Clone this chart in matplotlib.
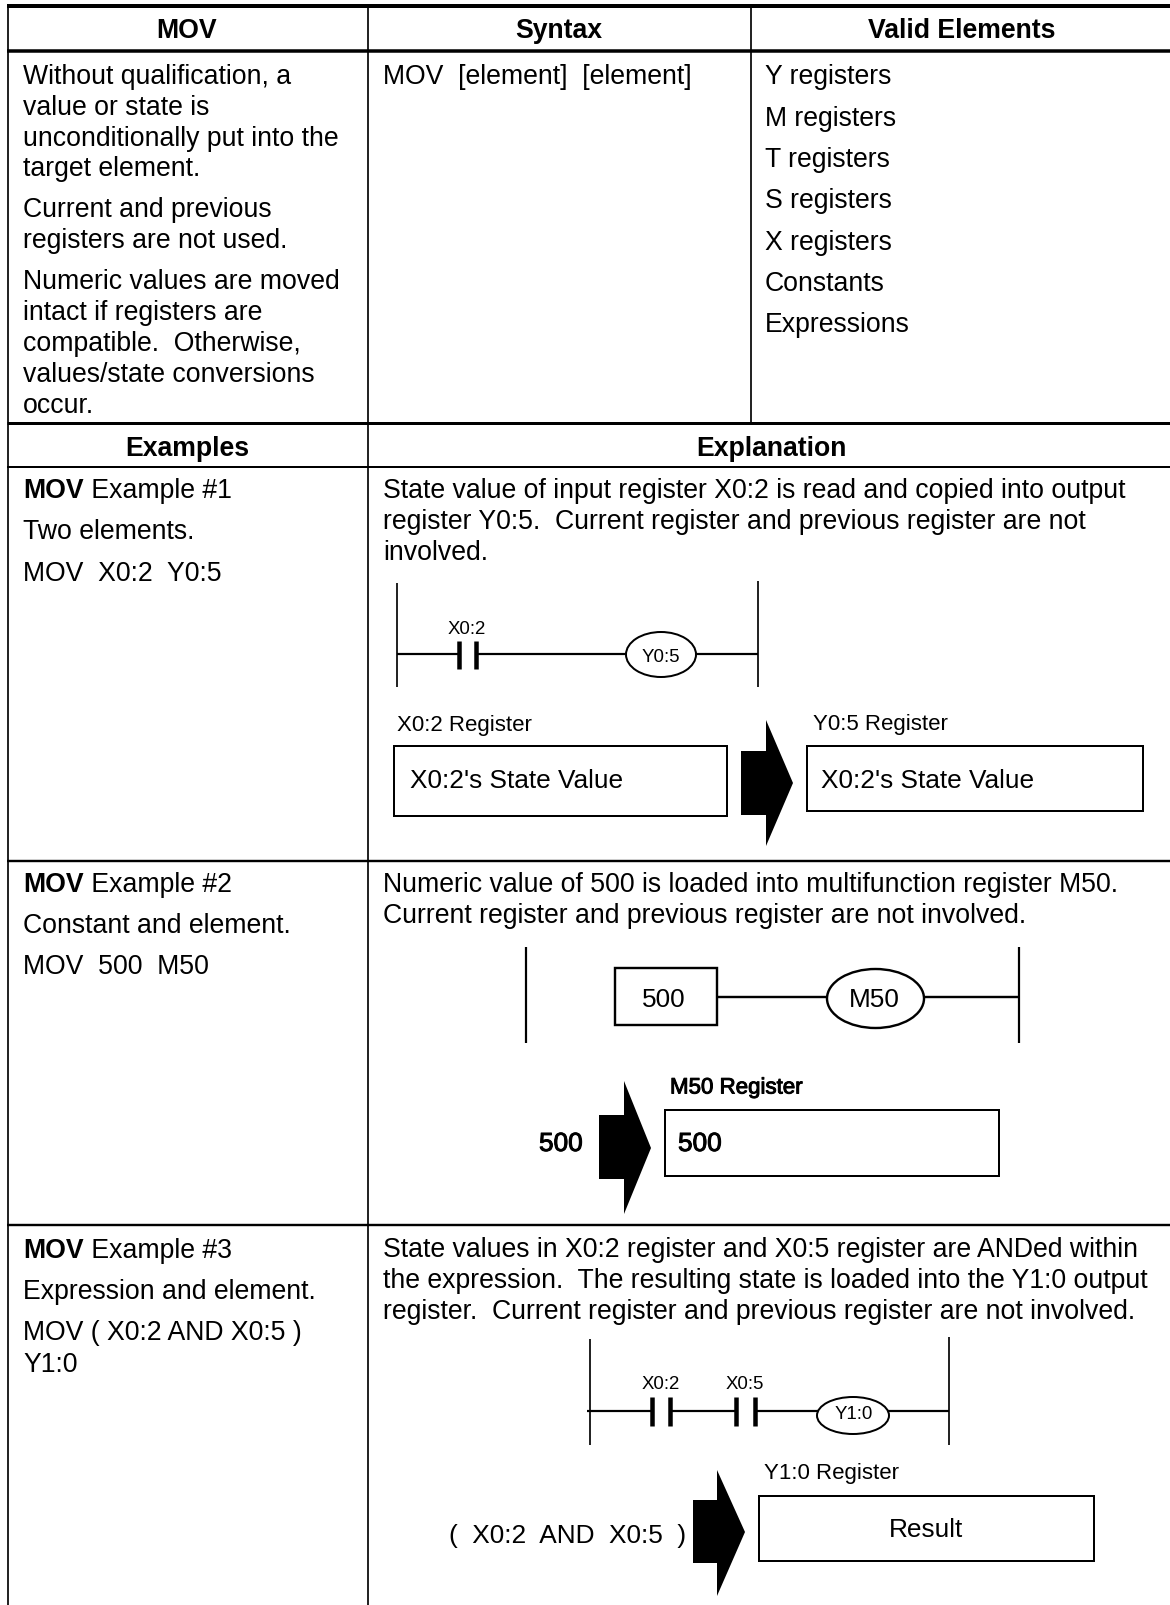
import matplotlib
matplotlib.use("Agg")
import matplotlib.pyplot as plt
from matplotlib.patches import Ellipse, Rectangle, Polygon
import matplotlib.patheffects as pe

plt.rcParams['font.family'] = ['Liberation Sans', 'DejaVu Sans']

W, H = 1170, 1606
BODY = 26.6
DIAG = 26.2
REG = 22.3
SMALL = 18.6
PX = 0.72

header_top = ["MOV", "Syntax", "Valid Elements"]
header_mid = ["Examples", "Explanation"]
description = ["Without qualification, a", "value or state is", "unconditionally put into the", "target element.",
               "Current and previous", "registers are not used.",
               "Numeric values are moved", "intact if registers are", "compatible.  Otherwise,",
               "values/state conversions", "occur."]
description_y = [84, 115, 146, 176, 217, 248, 289, 320, 351, 382, 413]
syntax = "MOV  [element]  [element]"
elements = ["Y registers", "M registers", "T registers", "S registers", "X registers", "Constants", "Expressions"]
elements_y = [84, 126, 167, 208, 250, 291, 332]

ex_left = [
    (["Two elements.", "MOV  X0:2  Y0:5"], 498, [539, 581]),
    (["Constant and element.", "MOV  500  M50"], 892, [933, 974]),
    (["Expression and element.", "MOV ( X0:2 AND X0:5 )", "Y1:0"], 1258, [1299, 1340, 1372]),
]
ex_right = [
    (["State value of input register X0:2 is read and copied into output",
      "register Y0:5.  Current register and previous register are not", "involved."], [498, 529, 560]),
    (["Numeric value of 500 is loaded into multifunction register M50.",
      "Current register and previous register are not involved."], [892, 923]),
    (["State values in X0:2 register and X0:5 register are ANDed within",
      "the expression.  The resulting state is loaded into the Y1:0 output",
      "register.  Current register and previous register are not involved."], [1257, 1288, 1319]),
]

fig = plt.figure(figsize=(W / 100, H / 100), dpi=100, facecolor='white')
ax = fig.add_axes([0, 0, 1, 1])
ax.set_xlim(0, W)
ax.set_ylim(H, 0)
ax.axis('off')


def line(x0, y0, x1, y1, w=1.7, z=2):
    ax.plot([x0, x1], [y0, y1], color='black', lw=w * PX, solid_capstyle='butt', zorder=z)


def text(x, y, s, px=BODY, ha='left', va='baseline', bold=False, heavy=False):
    t = ax.text(x, y, s, fontsize=px * PX, ha=ha, va=va, color='black',
                fontweight='bold' if bold else 'normal', zorder=5)
    if heavy:
        t.set_path_effects([pe.withStroke(linewidth=0.7, foreground='black')])
    return t


def box(x0, y0, x1, y1, w=2.0):
    ax.add_patch(Rectangle((x0, y0), x1 - x0, y1 - y0, fc='white', ec='black', lw=w * PX, zorder=3))


def ell(x0, y0, x1, y1, w=2.0):
    ax.add_patch(Ellipse(((x0 + x1) / 2, (y0 + y1) / 2), x1 - x0, y1 - y0, fc='white', ec='black', lw=w * PX, zorder=3))


def contact(x0, x1, y0, y1):
    ax.add_patch(Rectangle((x0, y0), x1 - x0, y1 - y0, fc='white', ec='none', zorder=3))
    line(x0, y0, x0, y1, 4.5, 4)
    line(x1, y0, x1, y1, 4.5, 4)


def arrow(x0, xs, xt, ytop, yr0, ytip, yr1, ybot):
    ax.add_patch(Polygon([(x0, yr0), (xs, yr0), (xs, ytop), (xt, ytip), (xs, ybot), (xs, yr1), (x0, yr1)],
                         closed=True, fc='black', ec='none', zorder=4))


# Table frame
for y, w in [(7, 4), (52, 3.5), (424, 3), (468, 2), (862, 2.4), (1226, 2.4)]:
    line(7, y, W, y, w)
line(8, 7, 8, 1606, 1.7)
line(368, 7, 368, 1606, 1.7)
line(751, 7, 751, 424, 1.7)

# Headers
for x, s in zip([187, 559, 962], header_top):
    text(x, 38, s, ha='center', bold=True)
for x, s in zip([187, 771], header_mid):
    text(x, 456, s, ha='center', bold=True)

for s, y in zip(description, description_y):
    text(23, y, s)
text(383, 84, syntax)
for s, y in zip(elements, elements_y):
    text(765, y, s)

# Example text
for i, (lines, y0, ys) in enumerate(ex_left):
    t = ax.text(23, y0, "MOV", fontsize=BODY * PX, fontweight='bold', zorder=5)
    ax.annotate(f" Example #{i + 1}", xycoords=t, xy=(1, 0), va='bottom', ha='left',
                fontsize=BODY * PX, annotation_clip=False, zorder=5, xytext=(0, 0), textcoords='offset points')
    for s, y in zip(lines, ys):
        text(23, y, s)
for lines, ys in ex_right:
    for s, y in zip(lines, ys):
        text(383, y, s)

# Example 1 diagram
line(397, 584, 397, 688)
line(758, 582, 758, 688)
line(397, 655, 758, 655, 2.2)
contact(459, 476, 642, 670)
ell(626, 633, 696, 678)
text(467, 630, "X0:2", SMALL, 'center', 'center')
text(661, 658, "Y0:5", SMALL, 'center', 'center')
text(397, 726, "X0:2 Register", REG, 'left', 'center')
text(813, 725, "Y0:5 Register", REG, 'left', 'center')
box(394, 747, 727, 817)
box(807, 747, 1143, 812)
text(410, 781, "X0:2's State Value", DIAG, 'left', 'center')
text(821, 781, "X0:2's State Value", DIAG, 'left', 'center')
arrow(741, 766, 793, 721, 752, 784, 816, 847)

# Example 2 diagram
line(526, 948, 526, 1044, 2.2)
line(1019, 948, 1019, 1044, 2.2)
line(717, 998, 1019, 998, 2.4)
box(615, 969, 717, 1026, 2.4)
ell(827, 970, 924, 1029, 2.4)
text(664, 1000, "500", DIAG, 'center', 'center')
text(874, 1000, "M50", DIAG, 'center', 'center')
text(670, 1089, "M50 Register", REG, 'left', 'center', heavy=True)
box(665, 1111, 999, 1177)
text(678, 1145, "500", DIAG, 'left', 'center', heavy=True)
text(539, 1145, "500", DIAG, 'left', 'center', heavy=True)
arrow(599, 624, 651, 1082, 1116, 1149, 1180, 1215)

# Example 3 diagram
line(590, 1340, 590, 1446)
line(949, 1338, 949, 1446)
line(587, 1412, 949, 1412, 2.2)
contact(652, 670, 1398, 1427)
contact(736, 755, 1398, 1427)
ell(817, 1398, 889, 1435)
text(661, 1385, "X0:2", SMALL, 'center', 'center')
text(745, 1385, "X0:5", SMALL, 'center', 'center')
text(854, 1415, "Y1:0", SMALL, 'center', 'center')
text(764, 1474, "Y1:0 Register", REG, 'left', 'center')
box(759, 1497, 1094, 1562)
text(926, 1530, "Result", DIAG, 'center', 'center')
text(449, 1536, "(  X0:2  AND  X0:5  )", DIAG, 'left', 'center')
arrow(693, 717, 745, 1471, 1501, 1533, 1564, 1597)

fig.savefig("out.png", dpi=100, facecolor='white')
